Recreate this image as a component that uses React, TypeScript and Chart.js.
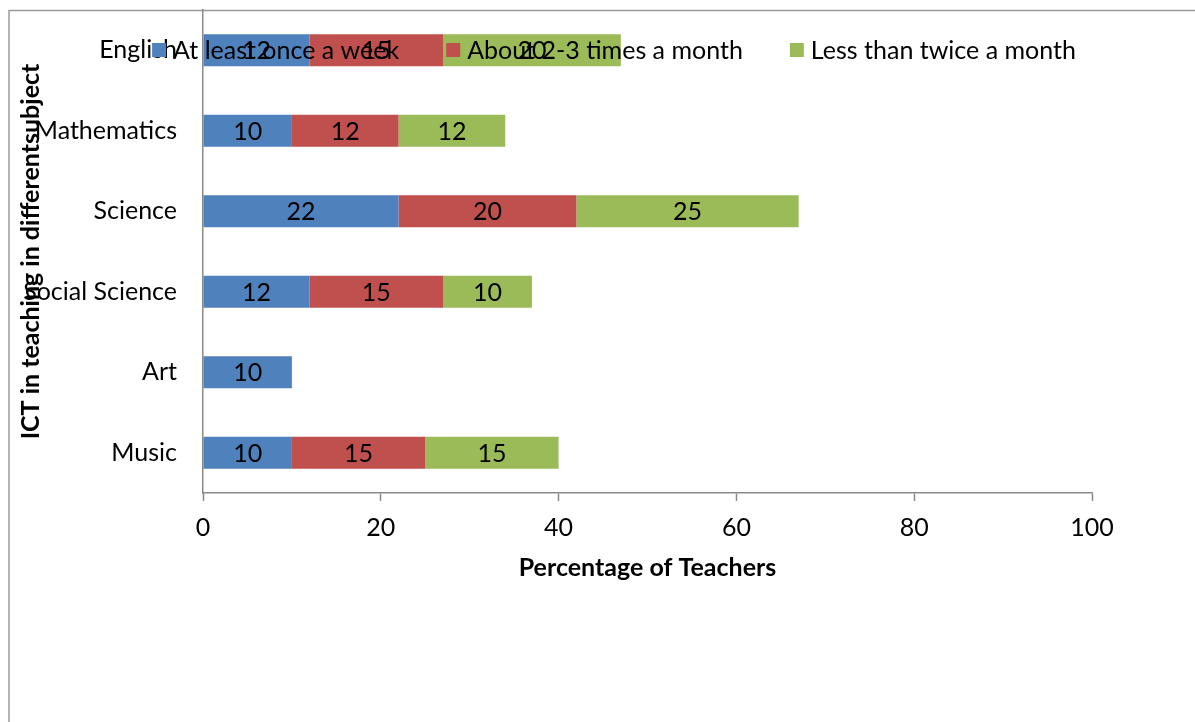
import React, { useEffect, useRef } from "react";
import { Chart, registerables } from "chart.js";

Chart.register(...registerables);

const categories = ["English", "Mathematics", "Science", "Social Science", "Art", "Music"];
const seriesNames = ["At least once a week", "About 2-3 times a month", "Less than twice a month"];
const weekly = [12, 10, 22, 12, 10, 10];
const monthly = [15, 12, 20, 15, null, 15];
const rarely = [20, 12, 25, 10, null, 15];
const seriesColors = ["#4F81BD", "#C0504D", "#9BBB59"];
const xTicks = [0, 20, 40, 60, 80, 100];
const yTitle = "ICT in teaching in differentsubject";
const xTitle = "Percentage of Teachers";

const FONT = "Lato, 'Open Sans', sans-serif";
const FS = 25;
const AXIS = "#8a8a8a";

const framePlugin = {
  id: "frame",
  beforeDraw(chart: any) {
    const ctx = chart.ctx;
    ctx.save();
    ctx.fillStyle = "#ffffff";
    ctx.fillRect(0, 0, chart.width, chart.height);
    ctx.strokeStyle = "#9a9a9a";
    ctx.lineWidth = 1.5;
    ctx.beginPath();
    ctx.moveTo(9, chart.height + 5);
    ctx.lineTo(9, 10.5);
    ctx.lineTo(chart.width + 5, 10.5);
    ctx.stroke();
    ctx.restore();
  },
};

const labelPlugin = {
  id: "segLabels",
  afterDatasetsDraw(chart: any) {
    const ctx = chart.ctx;
    ctx.save();
    ctx.font = `${FS}px ${FONT}`;
    ctx.fillStyle = "#000";
    ctx.textAlign = "center";
    ctx.textBaseline = "middle";
    chart.data.datasets.forEach((ds: any, i: number) => {
      const meta = chart.getDatasetMeta(i);
      meta.data.forEach((el: any, j: number) => {
        const v = ds.data[j];
        if (v === null || v === undefined) return;
        const cx = (el.x + el.base) / 2;
        ctx.fillText(String(v), cx, el.y + 1);
      });
    });
    ctx.restore();
  },
};

const legendPlugin = {
  id: "overlayLegend",
  afterDraw(chart: any) {
    const ctx = chart.ctx;
    ctx.save();
    ctx.font = `${FS}px ${FONT}`;
    ctx.textBaseline = "middle";
    ctx.textAlign = "left";
    const box = 14;
    const gapText = 7;
    const gapItem = 47;
    const items = chart.data.datasets.map((ds: any) => ({
      label: ds.label,
      color: ds.backgroundColor,
      w: ctx.measureText(ds.label).width,
    }));
    const total = items.reduce((a: number, it: any) => a + box + gapText + it.w, 0) + gapItem * (items.length - 1);
    const center = 614;
    let x = center - total / 2;
    const y = 50;
    items.forEach((it: any) => {
      ctx.fillStyle = it.color;
      ctx.fillRect(x, y - box / 2, box, box);
      ctx.fillStyle = "#000";
      ctx.fillText(it.label, x + box + gapText, y + 1);
      x += box + gapText + it.w + gapItem;
    });
    ctx.restore();
  },
};

export default function App() {
  const ref = useRef<HTMLCanvasElement | null>(null);
  useEffect(() => {
    document.body.style.margin = "0";
    const canvas = ref.current;
    if (!canvas) return;
    const chart = new Chart(canvas, {
      type: "bar",
      data: {
        labels: categories,
        datasets: [weekly, monthly, rarely].map((d, i) => ({
          label: seriesNames[i],
          data: d,
          backgroundColor: seriesColors[i],
          borderWidth: 0,
          barPercentage: 0.4,
          categoryPercentage: 1,
        })),
      },
      options: {
        indexAxis: "y",
        responsive: false,
        animation: false,
        layout: { padding: { top: 10, right: 103, left: 0, bottom: 0 } },
        plugins: { legend: { display: false }, tooltip: { enabled: false } },
        scales: {
          x: {
            stacked: true,
            min: 0,
            max: 100,
            afterFit: (s: any) => {
              s.height = 229;
              s.paddingLeft = 0;
              s.paddingRight = 0;
            },
            afterBuildTicks: (s: any) => {
              s.ticks = xTicks.map((v) => ({ value: v }));
            },
            grid: {
              display: true,
              drawOnChartArea: false,
              drawTicks: true,
              tickLength: 8,
              tickColor: AXIS,
              tickWidth: 1.5,
            },
            border: { display: true, color: AXIS, width: 1.5 },
            ticks: {
              font: { family: FONT, size: FS },
              color: "#000",
              padding: 12,
              maxRotation: 0,
            },
            title: {
              display: true,
              text: xTitle,
              font: { family: FONT, size: FS, weight: "bold" },
              color: "#000",
              padding: { top: 0, bottom: 139 },
            },
          },
          y: {
            stacked: true,
            afterFit: (s: any) => {
              s.width = 203;
              s.paddingTop = 0;
              s.paddingBottom = 0;
            },
            grid: { display: false, drawTicks: false },
            border: { display: true, color: AXIS, width: 1.5 },
            ticks: {
              font: { family: FONT, size: FS },
              color: "#000",
              padding: 26,
            },
            title: {
              display: true,
              text: yTitle,
              font: { family: FONT, size: FS, weight: "bold" },
              color: "#000",
              padding: { top: 16, bottom: 0 },
            },
          },
        },
      },
      plugins: [framePlugin, labelPlugin, legendPlugin],
    } as any);
    return () => chart.destroy();
  }, []);
  return <canvas ref={ref} width={1195} height={722} style={{ display: "block" }} />;
}
